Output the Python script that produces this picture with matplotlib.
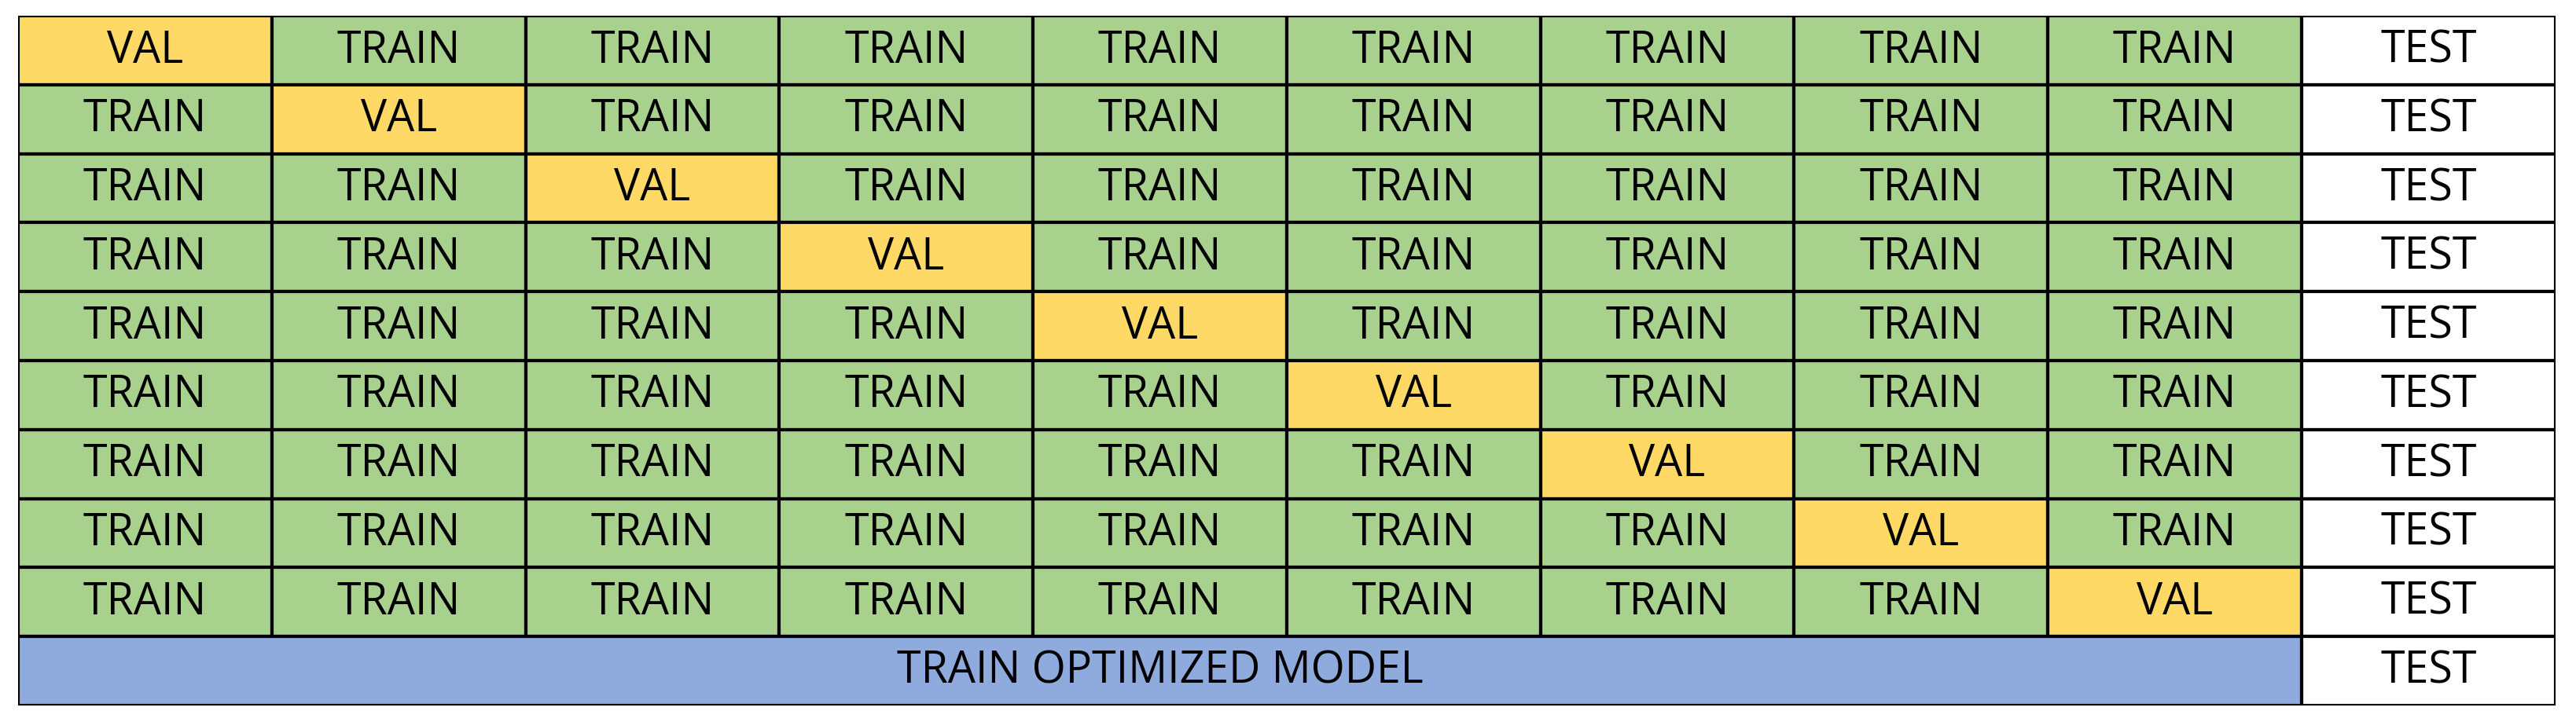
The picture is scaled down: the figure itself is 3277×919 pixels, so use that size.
import matplotlib.pyplot as plt
from matplotlib.patches import Rectangle

# cross-validation folds: 9 folds, 9 train/val blocks + test
n_folds = 9
n_cols = 10
cell_labels = {"train": "TRAIN", "val": "VAL", "test": "TEST"}
final_label = "TRAIN OPTIMIZED MODEL"
colors = {"train": "#A9D18E", "val": "#FFD966", "test": "#FFFFFF", "final": "#8FAADC"}

fig = plt.figure(figsize=(32.77, 9.2), dpi=100)
ax = fig.add_axes([0.007, 0.023, 0.985, 0.954])
ax.set_xlim(0, n_cols)
ax.set_ylim(n_folds + 1, 0)
ax.axis("off")

fs = 40
lw = 3
for r in range(n_folds):
    for c in range(n_cols):
        kind = "test" if c == n_cols - 1 else ("val" if c == r else "train")
        ax.add_patch(Rectangle((c, r), 1, 1, facecolor=colors[kind], edgecolor="black", lw=lw))
        ax.text(c + 0.5, r + 0.5, cell_labels[kind], ha="center", va="center",
                fontsize=fs, family="Open Sans")

r = n_folds
ax.add_patch(Rectangle((0, r), n_cols - 1, 1, facecolor=colors["final"], edgecolor="black", lw=lw))
ax.text((n_cols - 1) / 2, r + 0.5, final_label, ha="center", va="center", fontsize=fs, family="Open Sans")
ax.add_patch(Rectangle((n_cols - 1, r), 1, 1, facecolor=colors["test"], edgecolor="black", lw=lw))
ax.text(n_cols - 0.5, r + 0.5, cell_labels["test"], ha="center", va="center", fontsize=fs, family="Open Sans")

fig.savefig("out.png", dpi=100)
